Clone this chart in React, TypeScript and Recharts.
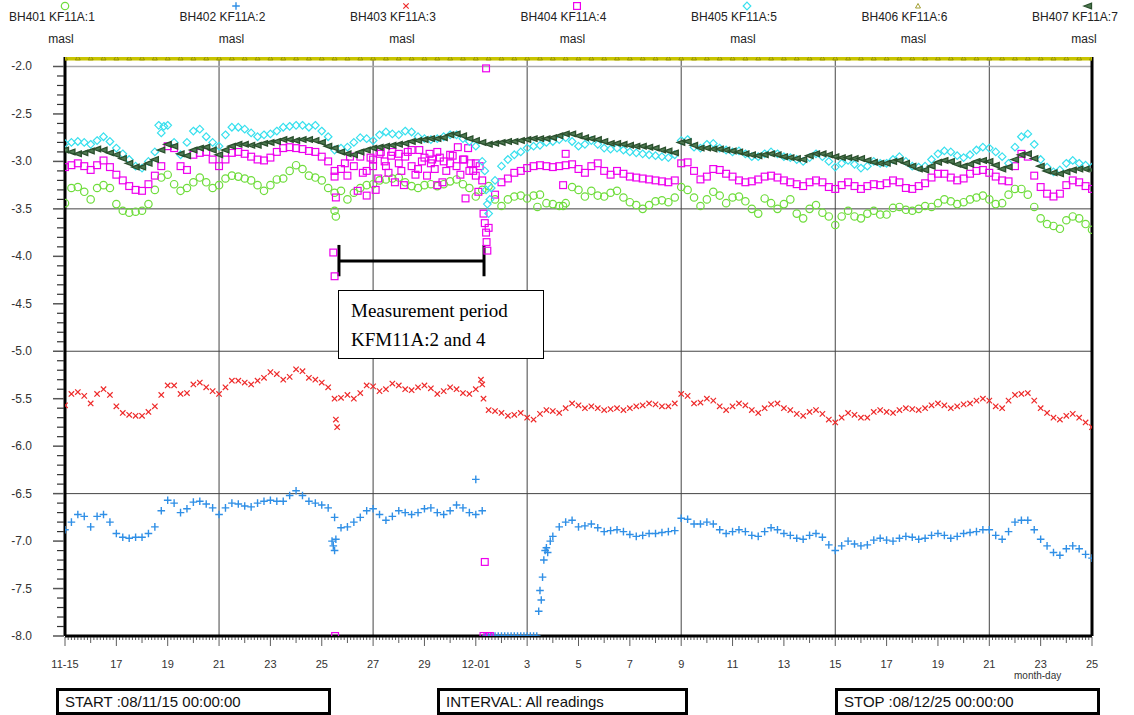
import React from 'react';
import { ScatterChart, Scatter, XAxis, YAxis, ReferenceLine } from 'recharts';

// header labels
const seriesNames = ['BH401 KF11A:1', 'BH402 KF11A:2', 'BH403 KF11A:3', 'BH404 KF11A:4', 'BH405 KF11A:5', 'BH406 KF11A:6', 'BH407 KF11A:7'];
const unitLabel = 'masl';

// x axis: days from 11-15, labelled every 2 days
const xTickLabels = ['11-15', '17', '19', '21', '23', '25', '27', '29', '12-01', '3', '5', '7', '9', '11', '13', '15', '17', '19', '21', '23', '25'];
const xGridDays = [6, 12, 18, 24, 30, 36];
const yGridDark = [-3.5, -5.0, -6.5];

// readings every 6 hours (one row per day), masl
const bh401 = [
  -3.44, -3.28, -3.27, -3.32,
  -3.40, -3.28, -3.25, -3.28,
  -3.45, -3.52, -3.54, -3.53,
  -3.52, -3.45, -3.30, -3.17,
  -3.14, -3.24, -3.31, -3.28,
  -3.22, -3.17, -3.22, -3.28,
  -3.25, -3.18, -3.15, -3.16,
  -3.18, -3.20, -3.25, -3.31,
  -3.25, -3.19, -3.18, -3.10,
  -3.04, -3.08, -3.15, -3.17,
  -3.20, -3.28, -3.33, -3.31,
  -3.40, -3.33, -3.28, -3.25,
  -3.24, -3.20, -3.19, -3.18,
  -3.17, -3.22, -3.26, -3.28,
  -3.25, -3.24, -3.26, -3.24,
  -3.21, -3.19, -3.24, -3.28,
  -3.37, -3.30, -3.26, -3.40,
  -3.47, -3.40, -3.37, -3.36,
  -3.39, -3.36, -3.35, -3.44,
  -3.45, -3.47, -3.44, -3.27,
  -3.30, -3.37, -3.31, -3.36,
  -3.37, -3.33, -3.31, -3.38,
  -3.43, -3.46, -3.50, -3.46,
  -3.42, -3.41, -3.43, -3.38,
  -3.27, -3.30, -3.38, -3.47,
  -3.40, -3.32, -3.36, -3.44,
  -3.38, -3.37, -3.42, -3.50,
  -3.55, -3.39, -3.44, -3.50,
  -3.45, -3.40, -3.55, -3.60,
  -3.50, -3.46, -3.54, -3.58,
  -3.67, -3.58, -3.52, -3.58,
  -3.60, -3.55, -3.52, -3.56,
  -3.56, -3.49, -3.48, -3.51,
  -3.52, -3.50, -3.47, -3.48,
  -3.44, -3.40, -3.42, -3.45,
  -3.43, -3.40, -3.38, -3.36,
  -3.40, -3.45, -3.44, -3.35,
  -3.29, -3.29, -3.35, -3.48,
  -3.60, -3.66, -3.68, -3.71,
  -3.62, -3.58, -3.60, -3.66,
  -3.72,
];

const bh402 = [
  -6.88, -6.80, -6.72, -6.74,
  -6.85, -6.74, -6.72, -6.80,
  -6.92, -6.96, -6.97, -6.96,
  -6.96, -6.92, -6.85, -6.68,
  -6.57, -6.60, -6.70, -6.66,
  -6.59, -6.58, -6.61, -6.65,
  -6.72, -6.65, -6.60, -6.61,
  -6.63, -6.64, -6.60, -6.58,
  -6.57, -6.58, -6.58, -6.52,
  -6.47, -6.52, -6.58, -6.60,
  -6.62, -6.65, -6.75, -6.86,
  -6.85, -6.80, -6.75, -6.68,
  -6.66, -6.72, -6.78, -6.74,
  -6.68, -6.70, -6.72, -6.70,
  -6.66, -6.65, -6.70, -6.72,
  -6.68, -6.62, -6.65, -6.70,
  -6.72, -6.68, -8.00, -8.00,
  -8.00, -8.00, -8.00, -8.00,
  -8.00, -8.00, -7.52, -7.07,
  -6.95, -6.85, -6.80, -6.78,
  -6.85, -6.84, -6.82, -6.86,
  -6.90, -6.89, -6.88, -6.90,
  -6.93, -6.95, -6.94, -6.92,
  -6.92, -6.91, -6.90, -6.89,
  -6.76, -6.77, -6.82, -6.82,
  -6.80, -6.82, -6.88, -6.92,
  -6.90, -6.88, -6.90, -6.94,
  -6.95, -6.90, -6.86, -6.88,
  -6.92, -6.94, -6.97, -6.98,
  -6.94, -6.92, -6.96, -7.04,
  -7.10, -7.05, -7.00, -7.03,
  -7.05, -7.04, -6.99, -6.97,
  -6.99, -7.00, -6.97, -6.95,
  -6.96, -6.98, -6.97, -6.94,
  -6.92, -6.94, -6.97, -6.95,
  -6.92, -6.91, -6.90, -6.88,
  -6.88, -6.94, -6.98, -6.90,
  -6.80, -6.78, -6.78, -6.88,
  -6.98, -7.05, -7.12, -7.15,
  -7.08, -7.05, -7.08, -7.14,
  -7.18,
];

const bh403 = [
  -5.57, -5.45, -5.43, -5.47,
  -5.55, -5.45, -5.40, -5.46,
  -5.58, -5.65, -5.67, -5.68,
  -5.68, -5.64, -5.58, -5.46,
  -5.36, -5.36, -5.45, -5.44,
  -5.35, -5.33, -5.38, -5.42,
  -5.45, -5.38, -5.31, -5.31,
  -5.33, -5.35, -5.31, -5.28,
  -5.22, -5.24, -5.30, -5.27,
  -5.19, -5.21, -5.28, -5.30,
  -5.33, -5.38, -5.50, -5.49,
  -5.46, -5.50, -5.44, -5.36,
  -5.37, -5.42, -5.40, -5.34,
  -5.36, -5.40, -5.41, -5.38,
  -5.36, -5.39, -5.45, -5.42,
  -5.38, -5.40, -5.44, -5.45,
  -5.40, -5.35, -5.62, -5.63,
  -5.65, -5.68, -5.67, -5.65,
  -5.70, -5.72, -5.66, -5.62,
  -5.63, -5.65, -5.60, -5.55,
  -5.57, -5.60, -5.58, -5.60,
  -5.62, -5.61, -5.60, -5.62,
  -5.60, -5.58, -5.57, -5.55,
  -5.56, -5.58, -5.58, -5.55,
  -5.45, -5.47, -5.55, -5.54,
  -5.50, -5.52, -5.58, -5.62,
  -5.58, -5.55, -5.57, -5.62,
  -5.65, -5.60, -5.56, -5.55,
  -5.60, -5.62, -5.66, -5.68,
  -5.64, -5.62, -5.66, -5.72,
  -5.75, -5.70, -5.65, -5.67,
  -5.70, -5.70, -5.64, -5.62,
  -5.64, -5.65, -5.62, -5.60,
  -5.61, -5.62, -5.60, -5.57,
  -5.55, -5.57, -5.60, -5.58,
  -5.56, -5.55, -5.52, -5.50,
  -5.52, -5.58, -5.60, -5.52,
  -5.46, -5.45, -5.44, -5.52,
  -5.60, -5.65, -5.70, -5.72,
  -5.68, -5.66, -5.70, -5.75,
  -5.80,
];

const bh404 = [
  -3.06, -3.04, -3.02, -3.05,
  -3.09, -3.04, -2.99, -3.06,
  -3.14, -3.20, -3.26, -3.30,
  -3.31, -3.24, -3.15, -3.05,
  -2.84, -2.86, -3.05, -3.09,
  -2.93, -2.91, -2.90, -2.98,
  -3.05, -2.98, -2.91, -2.90,
  -2.92, -2.95, -2.98, -2.99,
  -2.96, -2.90, -2.86, -2.85,
  -2.86, -2.87, -2.89, -2.90,
  -2.95, -3.00, -3.10, -3.08,
  -3.15, -3.05, -2.95, -3.10,
  -2.98, -2.92, -3.05, -2.90,
  -3.02, -2.95, -2.88, -3.08,
  -2.96, -3.02, -2.90, -3.00,
  -2.93, -3.05, -2.98, -3.10,
  -3.02, -3.20, -3.70, -3.35,
  -3.22, -3.18, -3.12, -3.10,
  -3.07, -3.05, -3.04, -3.05,
  -3.06, -3.05, -3.04, -3.03,
  -3.08, -3.12, -3.05, -3.02,
  -3.10, -3.14, -3.10, -3.13,
  -3.16, -3.17, -3.18, -3.19,
  -3.20, -3.21, -3.22, -3.20,
  -3.02, -3.01, -3.10, -3.19,
  -3.16, -3.08, -3.09, -3.13,
  -3.16, -3.20, -3.22, -3.21,
  -3.19, -3.16, -3.15, -3.17,
  -3.20, -3.22, -3.24, -3.26,
  -3.22, -3.20, -3.22, -3.27,
  -3.29, -3.25, -3.22, -3.26,
  -3.29, -3.26, -3.24, -3.25,
  -3.23, -3.20, -3.22, -3.28,
  -3.29, -3.26, -3.23, -3.17,
  -3.13, -3.13, -3.17, -3.20,
  -3.18, -3.13, -3.10, -3.09,
  -3.12, -3.16, -3.20, -3.21,
  -3.05, -2.92, -2.95, -3.15,
  -3.27, -3.34, -3.37, -3.34,
  -3.25, -3.20, -3.22, -3.26,
  -3.29,
];

const bh405 = [
  -2.81, -2.80, -2.79, -2.80,
  -2.82, -2.78, -2.74, -2.79,
  -2.86, -2.92, -2.98, -3.05,
  -3.07, -3.00, -2.90, -2.70,
  -2.62, -2.80, -2.93, -2.80,
  -2.68, -2.66, -2.74, -2.80,
  -2.84, -2.72, -2.64, -2.64,
  -2.66, -2.70, -2.74, -2.72,
  -2.71, -2.68, -2.64, -2.63,
  -2.62, -2.62, -2.64, -2.62,
  -2.68, -2.74, -2.88, -2.86,
  -2.85, -2.80, -2.75, -2.76,
  -2.78, -2.72, -2.69, -2.71,
  -2.72, -2.68, -2.69, -2.74,
  -2.76, -2.77, -2.76, -2.74,
  -2.72, -2.72, -2.76, -2.79,
  -2.84, -3.00, -3.55, -3.20,
  -3.05, -2.98, -2.93, -2.90,
  -2.86, -2.84, -2.83, -2.80,
  -2.79, -2.77, -2.75, -2.79,
  -2.84, -2.82, -2.78, -2.82,
  -2.86, -2.87, -2.86, -2.88,
  -2.90, -2.91, -2.92, -2.93,
  -2.94, -2.95, -2.96, -2.93,
  -2.78, -2.77, -2.85, -2.86,
  -2.82, -2.81, -2.86, -2.88,
  -2.90, -2.89, -2.92, -2.95,
  -2.95, -2.92, -2.90, -2.92,
  -2.95, -2.96, -2.98, -3.00,
  -2.96, -2.92, -2.95, -3.00,
  -3.06, -3.02, -2.99, -3.03,
  -3.07, -3.05, -3.00, -3.02,
  -3.02, -2.98, -2.95, -3.00,
  -3.05, -3.06, -3.05, -2.98,
  -2.92, -2.89, -2.90, -2.94,
  -2.96, -2.93, -2.88, -2.85,
  -2.86, -2.90, -2.95, -3.02,
  -2.85, -2.74, -2.71, -2.82,
  -2.98, -3.06, -3.11, -3.09,
  -3.02, -2.99, -3.02, -3.04,
  -3.06,
];

const bh407 = [
  -2.88, -2.90, -2.92, -2.91,
  -2.89, -2.87, -2.88, -2.91,
  -2.93, -2.97, -3.02, -3.06,
  -3.06, -3.02, -2.98, -2.88,
  -2.82, -2.84, -2.92, -2.94,
  -2.88, -2.86, -2.85, -2.88,
  -2.93, -2.88, -2.84, -2.82,
  -2.82, -2.83, -2.83, -2.81,
  -2.80, -2.79, -2.77, -2.77,
  -2.78, -2.77, -2.77, -2.78,
  -2.80, -2.84, -2.86, -2.90,
  -2.92, -2.93, -2.90, -2.88,
  -2.86, -2.85, -2.84, -2.83,
  -2.82, -2.81, -2.79, -2.78,
  -2.77, -2.76, -2.76, -2.75,
  -2.72, -2.71, -2.73, -2.76,
  -2.78, -2.80, -2.82, -2.81,
  -2.80, -2.79, -2.79, -2.78,
  -2.77, -2.76, -2.76, -2.76,
  -2.75, -2.73, -2.71, -2.71,
  -2.73, -2.75, -2.76, -2.77,
  -2.79, -2.81, -2.81, -2.82,
  -2.83, -2.84, -2.84, -2.85,
  -2.86, -2.88, -2.89, -2.91,
  -2.80, -2.79, -2.83, -2.86,
  -2.86, -2.87, -2.87, -2.88,
  -2.89, -2.90, -2.92, -2.93,
  -2.94, -2.93, -2.92, -2.93,
  -2.95, -2.96, -2.97, -2.98,
  -2.94, -2.92, -2.92, -2.93,
  -2.95, -2.96, -2.96, -2.97,
  -2.97, -2.99, -3.01, -3.02,
  -3.02, -3.00, -2.99, -3.02,
  -3.05, -3.08, -3.09, -3.05,
  -3.01, -2.99, -3.00, -3.03,
  -3.05, -3.03, -3.00, -2.99,
  -3.00, -3.04, -3.08, -3.06,
  -2.98, -2.93, -2.92, -2.97,
  -3.05, -3.10, -3.12, -3.13,
  -3.11, -3.09, -3.08, -3.08,
  -3.09,
];

// BH406 sits at the top of the scale the whole period (every 12 hours)
const bh406 = [
  -1.91, -1.91, -1.91, -1.91, -1.91, -1.91, -1.91, -1.91, -1.91, -1.91,
  -1.91, -1.91, -1.91, -1.91, -1.91, -1.91, -1.91, -1.91, -1.91, -1.91,
  -1.91, -1.91, -1.91, -1.91, -1.91, -1.91, -1.91, -1.91, -1.91, -1.91,
  -1.91, -1.91, -1.91, -1.91, -1.91, -1.91, -1.91, -1.91, -1.91, -1.91,
  -1.91, -1.91, -1.91, -1.91, -1.91, -1.91, -1.91, -1.91, -1.91, -1.91,
  -1.91, -1.91, -1.91, -1.91, -1.91, -1.91, -1.91, -1.91, -1.91, -1.91,
  -1.91, -1.91, -1.91, -1.91, -1.91, -1.91, -1.91, -1.91, -1.91, -1.91,
  -1.91, -1.91, -1.91, -1.91, -1.91, -1.91, -1.91, -1.91, -1.91, -1.91,
  -1.91,
];

// odd readings around the pump tests: [day, masl]
const bh401Extra: [number, number][] = [[10.5, -3.52], [10.55, -3.58], [18.4, -3.48], [19.4, -3.47]];
const bh402Extra: [number, number][] = [
  [10.4, -7.0], [10.45, -7.05], [10.5, -7.1], [10.55, -6.98], [16.0, -6.35],
  [16.375, -8], [16.625, -8], [16.875, -8], [17.125, -8], [17.375, -8], [17.625, -8], [17.875, -8], [18.125, -8], [18.375, -8],
  [18.45, -7.74], [18.55, -7.62], [18.6, -7.38], [18.65, -7.2], [18.7, -7.1], [18.8, -7.12], [18.9, -7.0],
];
const bh403Extra: [number, number][] = [[10.55, -5.72], [10.6, -5.8], [16.2, -5.3], [16.3, -5.5]];
const bh404Extra: [number, number][] = [
  [10.45, -3.96], [10.5, -4.21], [10.52, -8.0], [10.55, -3.38], [10.5, -3.16],
  [11.4, -3.31], [11.75, -3.36], [12.1, -3.30], [12.3, -2.90], [12.6, -3.12],
  [12.85, -3.22], [13.2, -3.25], [13.5, -3.05], [13.8, -2.88], [14.1, -3.15],
  [14.5, -3.25], [14.7, -3.22], [15.0, -3.02], [15.3, -2.85], [15.6, -3.39],
  [15.7, -2.86], [16.1, -3.32], [16.3, -3.55], [16.35, -3.65], [16.4, -3.75],
  [16.42, -3.85], [16.45, -3.94], [16.4, -2.02], [16.35, -7.22], [16.3, -8.0],
  [16.45, -8.0], [16.55, -8.0], [11.1, -2.95], [12.0, -3.05], [13.0, -2.92],
  [14.3, -2.98], [15.9, -3.10], [10.9, -3.02], [11.6, -3.12], [11.9, -2.96],
  [12.2, -3.18], [12.45, -3.0], [12.7, -2.94], [13.1, -3.1], [13.35, -2.9],
  [13.65, -3.14], [13.9, -3.0], [14.2, -2.92], [14.4, -3.08], [14.6, -2.96],
  [14.85, -3.1], [15.1, -2.94], [15.4, -3.14], [15.55, -2.98], [15.8, -3.02],
  [16.0, -3.15], [16.15, -3.05], [19.4, -3.25], [19.5, -2.92],
];
const bh405Extra: [number, number][] = [[16.35, -3.1], [16.4, -3.3], [16.45, -3.45], [16.55, -3.4], [16.6, -3.28], [3.65, -2.62], [3.85, -2.63]];

const toPoints = (vals: number[], step: number) => vals.map((y, i) => ({ x: i * step, y }));
const fromPairs = (pairs: [number, number][]) => pairs.map(([x, y]) => ({ x, y }));

const C = {
  bh401: '#6fdd3c',
  bh402: '#2f8fe6',
  bh403: '#ee2a2a',
  bh404: '#ee00ee',
  bh405: '#38e0ee',
  bh406: '#c8c400',
  bh407: '#2a4f2d',
};

const shapes: Record<string, (color: string) => (p: any) => React.ReactElement> = {
  circle: (c) => (p) => <circle cx={p.cx} cy={p.cy} r={3.7} fill="none" stroke={c} strokeWidth={1.2} />,
  plus: (c) => (p) => <path d={`M${p.cx - 3.8},${p.cy}H${p.cx + 3.8}M${p.cx},${p.cy - 3.8}V${p.cy + 3.8}`} stroke={c} strokeWidth={1.4} />,
  cross: (c) => (p) => <path d={`M${p.cx - 2.7},${p.cy - 2.7}L${p.cx + 2.7},${p.cy + 2.7}M${p.cx - 2.7},${p.cy + 2.7}L${p.cx + 2.7},${p.cy - 2.7}`} stroke={c} strokeWidth={1.2} />,
  square: (c) => (p) => <rect x={p.cx - 3.4} y={p.cy - 3.4} width={6.8} height={6.8} fill="none" stroke={c} strokeWidth={1.2} />,
  diamond: (c) => (p) => <path d={`M${p.cx},${p.cy - 3.8}L${p.cx + 3.8},${p.cy}L${p.cx},${p.cy + 3.8}L${p.cx - 3.8},${p.cy}Z`} fill="none" stroke={c} strokeWidth={1.2} />,
  triUp: (c) => (p) => <path d={`M${p.cx},${p.cy - 2.5}L${p.cx + 2.5},${p.cy + 2}L${p.cx - 2.5},${p.cy + 2}Z`} fill="none" stroke="#8a8600" strokeWidth={0.8} />,
  triLeft: (c) => (p) => <path d={`M${p.cx - 4},${p.cy}L${p.cx + 3.5},${p.cy - 2.8}L${p.cx + 3.5},${p.cy + 2.8}Z`} fill="#4f7a52" stroke={c} strokeWidth={1.3} />,
};

const legendShapes = ['circle', 'plus', 'cross', 'square', 'diamond', 'triUp', 'triLeft'];
const legendColors = [C.bh401, C.bh402, C.bh403, C.bh404, C.bh405, C.bh406, C.bh407];

const yTicks = Array.from({ length: 61 }, (_, i) => Math.round((-8 + i * 0.1) * 10) / 10);
const xTicks = Array.from({ length: 321 }, (_, i) => i / 8);

const XTick = (props: any) => {
  const { x, y, payload } = props;
  const r = Math.round(payload.value * 8);
  const major = r % 16 === 0;
  const day = r % 8 === 0;
  const len = major ? 9 : day ? 6 : 3;
  return (
    <g>
      <line x1={x} x2={x} y1={y + 1} y2={y + 1 + len} stroke="#333" strokeWidth={0.8} />
      {major && (
        <text x={x} y={y + 32} textAnchor="middle" fontSize={11} fill="#333" fontFamily="'Liberation Sans', Arial, sans-serif">
          {xTickLabels[r / 16]}
        </text>
      )}
    </g>
  );
};

const YTick = (props: any) => {
  const { x, y, payload } = props;
  const r = Math.round(payload.value * 10);
  const major = r % 5 === 0;
  const len = major ? 12 : 8;
  return (
    <g>
      <line x1={x - len} x2={x - 1} y1={y} y2={y} stroke={major ? '#555' : '#333'} strokeWidth={major ? 1.5 : 1.2} />
      {major && (
        <text x={x - 33} y={y + 4} textAnchor="end" fontSize={12} fill="#333" fontFamily="'Liberation Sans', Arial, sans-serif">
          {payload.value.toFixed(1)}
        </text>
      )}
    </g>
  );
};

const boxStyle: React.CSSProperties = {
  position: 'absolute',
  top: 688,
  height: 27,
  border: '3px solid #000',
  boxSizing: 'border-box',
  fontSize: 15,
  lineHeight: '21px',
  paddingLeft: 6,
  color: '#111',
  background: '#fff',
};

export default function App() {
  return (
    <div style={{ position: 'absolute', left: 0, top: 0, width: 1134, height: 715, overflow: 'hidden', background: '#fff', fontFamily: "'Liberation Sans', Arial, sans-serif" }}>
      {seriesNames.map((name, i) => {
        const mx = 65 + i * 170.5;
        const Shape = shapes[legendShapes[i]](legendColors[i]);
        return (
          <React.Fragment key={name}>
            <svg style={{ position: 'absolute', left: mx - 6, top: 0 }} width={12} height={12}>
              <Shape cx={6} cy={6} />
            </svg>
            <div style={{ position: 'absolute', left: mx - 56, top: 10, fontSize: 12, color: '#222', whiteSpace: 'nowrap' }}>{name}</div>
            <div style={{ position: 'absolute', left: mx - 30, width: 52, textAlign: 'center', top: 32, fontSize: 12, color: '#222' }}>{unitLabel}</div>
          </React.Fragment>
        );
      })}

      <div style={{ position: 'absolute', left: 0, top: 0 }}>
        <ScatterChart width={1134} height={715} margin={{ top: 57, right: 42, bottom: 49, left: 0 }}>
          <XAxis
            type="number"
            dataKey="x"
            domain={[0, 40]}
            ticks={xTicks}
            interval={0}
            tick={<XTick />}
            tickSize={0}
            tickMargin={0}
            tickLine={false}
            height={30}
            axisLine={{ stroke: '#000', strokeWidth: 3 }}
            allowDataOverflow
          />
          <YAxis
            type="number"
            dataKey="y"
            domain={[-8, -1.9]}
            ticks={yTicks}
            interval={0}
            tick={<YTick />}
            tickSize={0}
            tickMargin={0}
            tickLine={false}
            width={65}
            axisLine={{ stroke: '#000', strokeWidth: 3 }}
            allowDataOverflow
          />
          {xGridDays.map((d) => (
            <ReferenceLine key={`gx${d}`} x={d} stroke="#444" strokeWidth={1} />
          ))}
          {yGridDark.map((v) => (
            <ReferenceLine key={`gy${v}`} y={v} stroke="#444" strokeWidth={1} />
          ))}
          <ReferenceLine y={-2.0} stroke="#aaa" strokeWidth={1.5} />
          <ReferenceLine x={40} stroke="#000" strokeWidth={3} />

          <Scatter data={[...toPoints(bh401, 0.25), ...fromPairs(bh401Extra)]} shape={shapes.circle(C.bh401)} isAnimationActive={false} />
          <Scatter data={[...toPoints(bh402, 0.25), ...fromPairs(bh402Extra)]} shape={shapes.plus(C.bh402)} isAnimationActive={false} />
          <Scatter data={[...toPoints(bh403, 0.25), ...fromPairs(bh403Extra)]} shape={shapes.cross(C.bh403)} isAnimationActive={false} />
          <Scatter data={[...toPoints(bh404, 0.25), ...fromPairs(bh404Extra)]} shape={shapes.square(C.bh404)} isAnimationActive={false} />
          <Scatter data={[...toPoints(bh405, 0.25), ...fromPairs(bh405Extra)]} shape={shapes.diamond(C.bh405)} isAnimationActive={false} />
          <Scatter
            data={toPoints(bh406, 0.5)}
            line={{ stroke: C.bh406, strokeWidth: 5 }}
            shape={shapes.triUp(C.bh406)}
            isAnimationActive={false}
          />
          <Scatter data={toPoints(bh407, 0.25)} shape={shapes.triLeft(C.bh407)} isAnimationActive={false} />

          <ReferenceLine segment={[{ x: 10.67, y: -4.05 }, { x: 16.32, y: -4.05 }]} stroke="#000" strokeWidth={3} />
          <ReferenceLine segment={[{ x: 10.67, y: -3.88 }, { x: 10.67, y: -4.21 }]} stroke="#000" strokeWidth={3} />
          <ReferenceLine segment={[{ x: 16.32, y: -3.88 }, { x: 16.32, y: -4.21 }]} stroke="#000" strokeWidth={3} />
        </ScatterChart>
      </div>

      <div style={{ position: 'absolute', left: 1014, top: 670, fontSize: 10, color: '#333' }}>month-day</div>

      <div
        style={{
          position: 'absolute',
          left: 338,
          top: 290,
          width: 206,
          height: 69,
          border: '1.5px solid #000',
          boxSizing: 'border-box',
          background: '#fff',
          fontFamily: "'Liberation Serif', 'Times New Roman', serif",
          fontSize: 19,
          lineHeight: '29px',
          padding: '5px 0 0 12px',
          color: '#000',
        }}
      >
        <div>Measurement period</div>
        <div>KFM11A:2 and 4</div>
      </div>

      <div style={{ ...boxStyle, left: 56, width: 275 }}>START :08/11/15 00:00:00</div>
      <div style={{ ...boxStyle, left: 437, width: 251 }}>INTERVAL: All readings</div>
      <div style={{ ...boxStyle, left: 835, width: 265 }}>STOP :08/12/25 00:00:00</div>
    </div>
  );
}
